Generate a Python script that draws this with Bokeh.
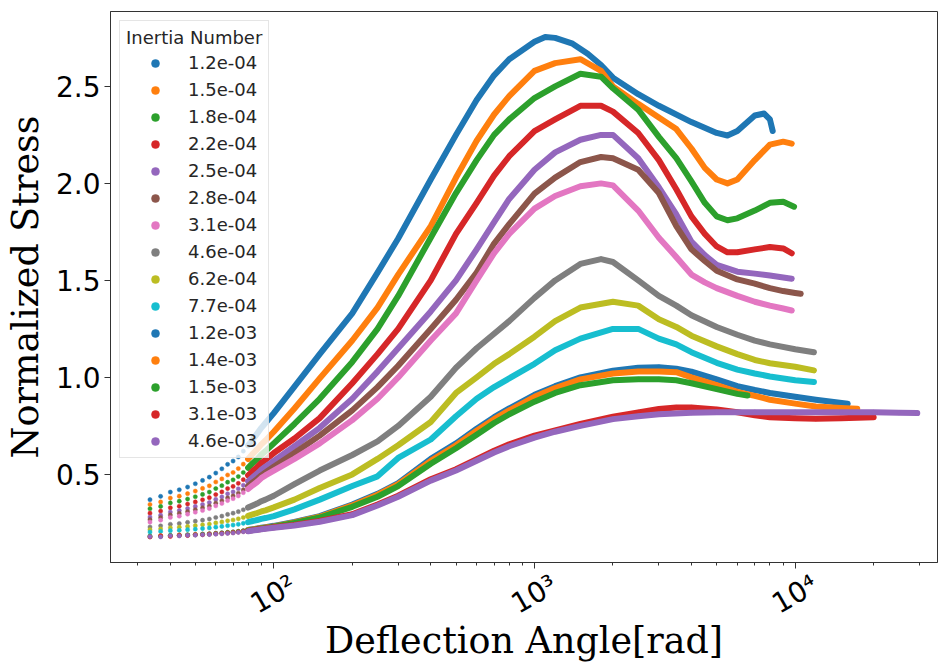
import math
from bokeh.plotting import figure
from bokeh.models import FixedTicker, Legend, LegendItem, Range1d, LogAxis, CustomJSTickFormatter
from bokeh.embed import file_html
from bokeh.resources import INLINE

LABELS = ["1.2e-04", "1.5e-04", "1.8e-04", "2.2e-04", "2.5e-04", "2.8e-04", "3.1e-04",
          "4.6e-04", "6.2e-04", "7.7e-04", "1.2e-03", "1.4e-03", "1.5e-03", "3.1e-03", "4.6e-03"]
COLORS = ["#1f77b4", "#ff7f0e", "#2ca02c", "#d62728", "#9467bd", "#8c564b", "#e377c2",
          "#7f7f7f", "#bcbd22", "#17becf", "#1f77b4", "#ff7f0e", "#2ca02c", "#d62728", "#9467bd"]

# x positions of the separate dots at small deflection angles
DOT_X = [33.5, 36.8, 40.1, 43.4, 46.7, 50.0, 53.3, 56.6, 59.9, 63.2, 66.5, 69.8, 73.1,
         76.4, 79.7, 83.0, 86.3, 89.6, 92.9]

S1_DOT_Y = [0.370, 0.387, 0.409, 0.421, 0.435, 0.452, 0.469, 0.486, 0.507, 0.529, 0.552, 0.569, 0.590, 0.620, 0.650, 0.680, 0.710, 0.740, 0.765]
S2_DOT_Y = [0.345, 0.358, 0.378, 0.388, 0.401, 0.414, 0.428, 0.441, 0.461, 0.477, 0.497, 0.510, 0.530, 0.553, 0.579, 0.606, 0.629, 0.655, 0.675]
S3_DOT_Y = [0.323, 0.335, 0.353, 0.362, 0.373, 0.385, 0.397, 0.409, 0.427, 0.442, 0.460, 0.472, 0.489, 0.510, 0.534, 0.558, 0.578, 0.602, 0.620]
S4_DOT_Y = [0.300, 0.311, 0.328, 0.336, 0.347, 0.358, 0.369, 0.380, 0.396, 0.410, 0.427, 0.438, 0.454, 0.473, 0.495, 0.517, 0.537, 0.559, 0.575]
S5_DOT_Y = [0.280, 0.290, 0.306, 0.314, 0.324, 0.335, 0.345, 0.355, 0.371, 0.384, 0.400, 0.410, 0.426, 0.444, 0.465, 0.485, 0.504, 0.524, 0.540]
S6_DOT_Y = [0.267, 0.277, 0.291, 0.299, 0.308, 0.318, 0.328, 0.337, 0.352, 0.364, 0.379, 0.389, 0.403, 0.420, 0.440, 0.459, 0.476, 0.495, 0.510]
S7_DOT_Y = [0.254, 0.264, 0.278, 0.285, 0.295, 0.305, 0.314, 0.324, 0.338, 0.350, 0.365, 0.375, 0.389, 0.406, 0.425, 0.444, 0.461, 0.481, 0.495]
S8_DOT_Y = [0.229, 0.235, 0.243, 0.247, 0.253, 0.259, 0.264, 0.270, 0.278, 0.285, 0.294, 0.300, 0.308, 0.318, 0.329, 0.340, 0.350, 0.362, 0.370]
S9_DOT_Y = [0.215, 0.219, 0.225, 0.228, 0.232, 0.236, 0.240, 0.244, 0.250, 0.255, 0.261, 0.265, 0.271, 0.278, 0.286, 0.294, 0.301, 0.309, 0.315]
S10_DOT_Y = [0.203, 0.206, 0.210, 0.212, 0.215, 0.218, 0.221, 0.224, 0.228, 0.232, 0.236, 0.239, 0.243, 0.248, 0.254, 0.260, 0.265, 0.271, 0.275]
S11_DOT_Y = [0.180, 0.182, 0.185, 0.186, 0.188, 0.190, 0.192, 0.194, 0.197, 0.199, 0.202, 0.204, 0.207, 0.210, 0.214, 0.218, 0.221, 0.225, 0.228]
S12_DOT_Y = [0.178, 0.185, 0.183, 0.188, 0.187, 0.191, 0.191, 0.194, 0.196, 0.198, 0.201, 0.203, 0.206, 0.209, 0.213, 0.216, 0.220, 0.223, 0.226]
S13_DOT_Y = [0.182, 0.181, 0.186, 0.185, 0.189, 0.189, 0.192, 0.193, 0.195, 0.198, 0.200, 0.202, 0.205, 0.208, 0.211, 0.214, 0.218, 0.221, 0.224]
S14_DOT_Y = [0.178, 0.183, 0.180, 0.186, 0.185, 0.189, 0.189, 0.192, 0.194, 0.196, 0.198, 0.200, 0.203, 0.206, 0.209, 0.213, 0.216, 0.219, 0.222]
S15_DOT_Y = [0.179, 0.178, 0.184, 0.183, 0.186, 0.187, 0.189, 0.190, 0.192, 0.194, 0.196, 0.198, 0.201, 0.204, 0.207, 0.211, 0.214, 0.217, 0.220]

# dense part of each series (points merge into a band)
S1_X = [100, 120, 150, 200, 250, 300, 400, 500, 600, 700, 800, 1000, 1100, 1200, 1400, 1600, 1800, 2000, 2500, 3000, 4000, 5000, 5500, 6000, 7000, 7600, 8000, 8200]
S1_Y = [0.816, 0.952, 1.12, 1.33, 1.54, 1.716, 2.02, 2.25, 2.43, 2.557, 2.64, 2.73, 2.755, 2.75, 2.72, 2.668, 2.61, 2.545, 2.46, 2.40, 2.316, 2.26, 2.247, 2.27, 2.35, 2.36, 2.33, 2.27]
S2_X = [100, 120, 150, 200, 250, 300, 400, 500, 600, 700, 800, 1000, 1200, 1500, 1800, 2000, 2500, 3000, 3500, 4000, 4500, 5000, 5500, 6000, 7000, 8000, 9000, 9700]
S2_Y = [0.72, 0.84, 0.995, 1.19, 1.36, 1.53, 1.78, 2.03, 2.22, 2.355, 2.45, 2.58, 2.62, 2.64, 2.58, 2.50, 2.41, 2.34, 2.28, 2.18, 2.08, 2.02, 2.00, 2.02, 2.12, 2.20, 2.215, 2.205]
S3_X = [100, 120, 150, 200, 250, 300, 400, 500, 600, 700, 800, 1000, 1200, 1500, 1800, 2000, 2500, 3000, 3500, 4000, 4500, 5000, 5500, 6000, 7000, 8000, 9000, 9900]
S3_Y = [0.66, 0.76, 0.89, 1.08, 1.25, 1.42, 1.72, 1.95, 2.12, 2.25, 2.33, 2.44, 2.50, 2.565, 2.55, 2.49, 2.38, 2.24, 2.13, 2.01, 1.90, 1.83, 1.81, 1.82, 1.86, 1.90, 1.905, 1.88]
S4_X = [100, 120, 150, 200, 250, 300, 400, 500, 600, 700, 800, 1000, 1200, 1500, 1800, 2000, 2500, 3000, 3500, 4000, 4500, 5000, 5500, 6000, 7000, 8000, 9000, 9700]
S4_Y = [0.61, 0.685, 0.79, 0.97, 1.12, 1.25, 1.50, 1.74, 1.90, 2.04, 2.14, 2.27, 2.33, 2.40, 2.40, 2.37, 2.26, 2.12, 1.97, 1.83, 1.74, 1.675, 1.645, 1.645, 1.66, 1.672, 1.665, 1.64]
S5_X = [100, 120, 150, 200, 250, 300, 400, 500, 600, 700, 800, 1000, 1200, 1500, 1800, 2000, 2500, 3000, 3500, 4000, 4500, 5000, 6000, 7000, 8000, 9000, 9700]
S5_Y = [0.57, 0.645, 0.74, 0.89, 1.03, 1.15, 1.34, 1.50, 1.66, 1.80, 1.92, 2.07, 2.16, 2.225, 2.25, 2.25, 2.13, 1.98, 1.84, 1.70, 1.63, 1.58, 1.545, 1.535, 1.525, 1.515, 1.509]
S6_X = [100, 120, 150, 200, 250, 300, 400, 500, 600, 700, 800, 1000, 1200, 1500, 1800, 2000, 2500, 3000, 3500, 4000, 4500, 5000, 6000, 7000, 8000, 9000, 10000, 10500]
S6_Y = [0.54, 0.61, 0.70, 0.83, 0.95, 1.06, 1.25, 1.40, 1.54, 1.69, 1.79, 1.947, 2.03, 2.11, 2.136, 2.13, 2.07, 1.95, 1.78, 1.66, 1.60, 1.55, 1.505, 1.483, 1.46, 1.445, 1.435, 1.431]
S7_X = [100, 120, 150, 200, 250, 300, 400, 500, 600, 700, 800, 1000, 1200, 1500, 1800, 2000, 2500, 3000, 3500, 4000, 4500, 5000, 6000, 7000, 8000, 9000, 9700]
S7_Y = [0.52, 0.58, 0.66, 0.78, 0.89, 1.00, 1.19, 1.33, 1.50, 1.64, 1.74, 1.87, 1.935, 1.985, 2.00, 1.99, 1.86, 1.72, 1.62, 1.53, 1.49, 1.46, 1.42, 1.39, 1.37, 1.355, 1.345]
S8_X = [100, 120, 150, 200, 250, 300, 400, 500, 600, 700, 800, 1000, 1200, 1500, 1800, 2000, 2500, 3000, 3500, 4000, 5000, 6000, 7000, 8000, 10000, 11800]
S8_Y = [0.39, 0.45, 0.52, 0.60, 0.67, 0.75, 0.90, 1.05, 1.15, 1.225, 1.29, 1.41, 1.50, 1.585, 1.61, 1.595, 1.50, 1.42, 1.37, 1.32, 1.26, 1.22, 1.19, 1.17, 1.145, 1.13]
S9_X = [100, 120, 150, 200, 250, 300, 400, 500, 600, 700, 800, 1000, 1200, 1500, 2000, 2500, 3000, 3500, 4000, 5000, 6000, 7000, 8000, 10000, 11800]
S9_Y = [0.33, 0.37, 0.43, 0.50, 0.58, 0.65, 0.77, 0.92, 1.00, 1.07, 1.12, 1.21, 1.29, 1.36, 1.39, 1.37, 1.30, 1.26, 1.215, 1.16, 1.12, 1.09, 1.073, 1.055, 1.036]
S10_X = [100, 120, 150, 200, 250, 300, 400, 500, 600, 700, 800, 1000, 1200, 1500, 2000, 2500, 3000, 3500, 4000, 5000, 6000, 7000, 8000, 10000, 11800]
S10_Y = [0.285, 0.32, 0.37, 0.44, 0.49, 0.585, 0.68, 0.80, 0.89, 0.95, 0.995, 1.07, 1.14, 1.20, 1.25, 1.25, 1.20, 1.17, 1.13, 1.075, 1.04, 1.02, 1.005, 0.985, 0.976]
S11_X = [100, 120, 150, 200, 250, 300, 400, 500, 600, 700, 800, 1000, 1200, 1500, 2000, 2500, 3000, 3500, 4000, 5000, 6000, 7000, 8000, 10000, 12000, 15900]
S11_Y = [0.235, 0.255, 0.285, 0.345, 0.40, 0.455, 0.58, 0.66, 0.735, 0.795, 0.84, 0.91, 0.955, 1.0, 1.035, 1.05, 1.053, 1.045, 1.03, 0.99, 0.955, 0.935, 0.92, 0.90, 0.885, 0.864]
S12_X = [100, 120, 150, 200, 250, 300, 400, 500, 600, 700, 800, 1000, 1200, 1500, 2000, 2500, 3000, 3500, 4000, 5000, 6000, 7000, 8000, 10000, 12000, 15000, 17300]
S12_Y = [0.232, 0.252, 0.282, 0.34, 0.395, 0.45, 0.57, 0.65, 0.725, 0.785, 0.83, 0.90, 0.945, 0.99, 1.02, 1.03, 1.03, 1.027, 1.0, 0.96, 0.925, 0.905, 0.885, 0.865, 0.85, 0.842, 0.838]
S13_X = [100, 120, 150, 200, 250, 300, 400, 500, 600, 700, 800, 1000, 1200, 1500, 2000, 2500, 3000, 3500, 4000, 5000, 6000, 6560]
S13_Y = [0.23, 0.25, 0.278, 0.333, 0.385, 0.44, 0.555, 0.635, 0.705, 0.765, 0.81, 0.875, 0.92, 0.96, 0.985, 0.99, 0.99, 0.985, 0.97, 0.94, 0.915, 0.907]
S14_X = [100, 120, 150, 200, 250, 300, 400, 500, 600, 700, 800, 1000, 1200, 1500, 2000, 2500, 3000, 3500, 4000, 5000, 6000, 7000, 8000, 10000, 12000, 15000, 20000]
S14_Y = [0.228, 0.24, 0.26, 0.295, 0.345, 0.39, 0.475, 0.527, 0.578, 0.622, 0.655, 0.70, 0.727, 0.76, 0.797, 0.82, 0.837, 0.845, 0.845, 0.835, 0.82, 0.805, 0.795, 0.79, 0.787, 0.79, 0.795]
S15_X = [100, 120, 150, 200, 250, 300, 400, 500, 600, 700, 800, 1000, 1200, 1500, 2000, 2500, 3000, 4000, 5000, 7000, 10000, 15000, 20000, 25000, 29400]
S15_Y = [0.225, 0.237, 0.256, 0.29, 0.34, 0.385, 0.468, 0.52, 0.57, 0.613, 0.645, 0.69, 0.72, 0.75, 0.785, 0.80, 0.81, 0.818, 0.82, 0.821, 0.821, 0.821, 0.82, 0.818, 0.816]

DOT_YS = [S1_DOT_Y, S2_DOT_Y, S3_DOT_Y, S4_DOT_Y, S5_DOT_Y, S6_DOT_Y, S7_DOT_Y, S8_DOT_Y,
          S9_DOT_Y, S10_DOT_Y, S11_DOT_Y, S12_DOT_Y, S13_DOT_Y, S14_DOT_Y, S15_DOT_Y]
BAND_XS = [S1_X, S2_X, S3_X, S4_X, S5_X, S6_X, S7_X, S8_X, S9_X, S10_X, S11_X, S12_X, S13_X, S14_X, S15_X]
BAND_YS = [S1_Y, S2_Y, S3_Y, S4_Y, S5_Y, S6_Y, S7_Y, S8_Y, S9_Y, S10_Y, S11_Y, S12_Y, S13_Y, S14_Y, S15_Y]

X_TICKS = [100, 1000, 10000]
X_TICK_TEXT = ["10²", "10³", "10⁴"]
Y_TICKS = [0.5, 1.0, 1.5, 2.0, 2.5]
Y_START, Y_END = 0.046, 2.886

p = figure(width=946, height=667, x_axis_type="log",
           x_range=Range1d(10 ** 1.3736, 10 ** 4.546), y_range=Range1d(Y_START, Y_END),
           output_backend="svg", toolbar_location=None,
           min_border_left=109, min_border_right=9, min_border_top=11, min_border_bottom=105)
p.grid.visible = False
p.outline_line_color = "#333333"
p.outline_line_width = 1
p.background_fill_color = "white"
p.border_fill_color = "white"

minor = [m * d for d in (10, 100, 1000, 10000) for m in range(2, 10)]
p.xaxis.ticker = FixedTicker(ticks=X_TICKS, minor_ticks=minor)
p.yaxis.ticker = FixedTicker(ticks=Y_TICKS, minor_ticks=[])
p.yaxis.formatter = CustomJSTickFormatter(code="return tick.toFixed(1);")

for ax in (p.xaxis[0], p.yaxis[0]):
    ax.axis_line_color = "#333333"
    ax.major_tick_line_color = "#333333"
    ax.minor_tick_line_color = "#333333"
    ax.major_tick_out = 6
    ax.major_tick_in = 0
    ax.minor_tick_out = 3
    ax.minor_tick_in = 0
    ax.major_label_text_font = "DejaVu Sans"
    ax.major_label_text_font_size = "28px"
    ax.major_label_text_color = "black"
    ax.axis_label_text_font = "DejaVu Serif"
    ax.axis_label_text_font_size = "36.5px"
    ax.axis_label_text_font_style = "normal"
    ax.axis_label_text_color = "black"
    ax.major_label_standoff = 4

p.yaxis.axis_label_standoff = 6
p.yaxis.axis_label = "Normalized Stress"

# the tick axis carries only the tick marks
p.xaxis.major_label_overrides = {t: "" for t in X_TICKS}
p.xaxis.major_label_standoff = 0
p.xaxis.axis_label_standoff = 0

# labels of the log ticks, rotated and centred under each tick (matplotlib style);
# Bokeh anchors rotated labels at their right end, so this label axis is offset
# along the text direction by half the label length.
shift = 10 ** (20.0 / 261.0)
label_ticks = [round(t * shift) for t in X_TICKS]
lab_axis = LogAxis(ticker=FixedTicker(ticks=label_ticks),
                   major_label_overrides={lt: txt for lt, txt in zip(label_ticks, X_TICK_TEXT)},
                   major_label_orientation=math.pi / 6,
                   axis_line_color=None, major_tick_line_color=None, minor_tick_line_color=None,
                   major_label_text_font="DejaVu Sans", major_label_text_font_size="28px",
                   major_label_text_color="black", major_label_standoff=8,
                   axis_label="Deflection Angle[rad]", axis_label_text_font="DejaVu Serif",
                   axis_label_text_font_size="36.5px", axis_label_text_font_style="normal",
                   axis_label_text_color="black", axis_label_standoff=-19)
p.add_layout(lab_axis, "below")

items = []
for i in range(15):
    xs = DOT_X + BAND_XS[i]
    ys = DOT_YS[i] + BAND_YS[i]
    lx = DOT_X[14:] + BAND_XS[i]
    ly = DOT_YS[i][14:] + BAND_YS[i]
    p.line(lx, ly, line_width=6, line_color=COLORS[i], line_join="round", line_cap="round")
    r = p.scatter(xs, ys, size=4.2, fill_color=COLORS[i], line_color=COLORS[i], line_width=0.5)
    items.append(LegendItem(label=LABELS[i], renderers=[r]))

legend = Legend(items=items, location="top_left", title="Inertia Number",
                title_text_font="DejaVu Sans", title_text_font_size="18px",
                title_text_font_style="normal", title_text_color="#262626",
                label_text_font="DejaVu Sans", label_text_font_size="18px",
                label_text_color="#262626", label_height=20, glyph_height=20,
                glyph_width=58, label_standoff=4, spacing=6, padding=6, margin=9,
                title_standoff=4, border_line_color="#cccccc", border_line_width=1,
                background_fill_alpha=0.8)
p.add_layout(legend)

open("out.html", "w").write(file_html(p, INLINE))
